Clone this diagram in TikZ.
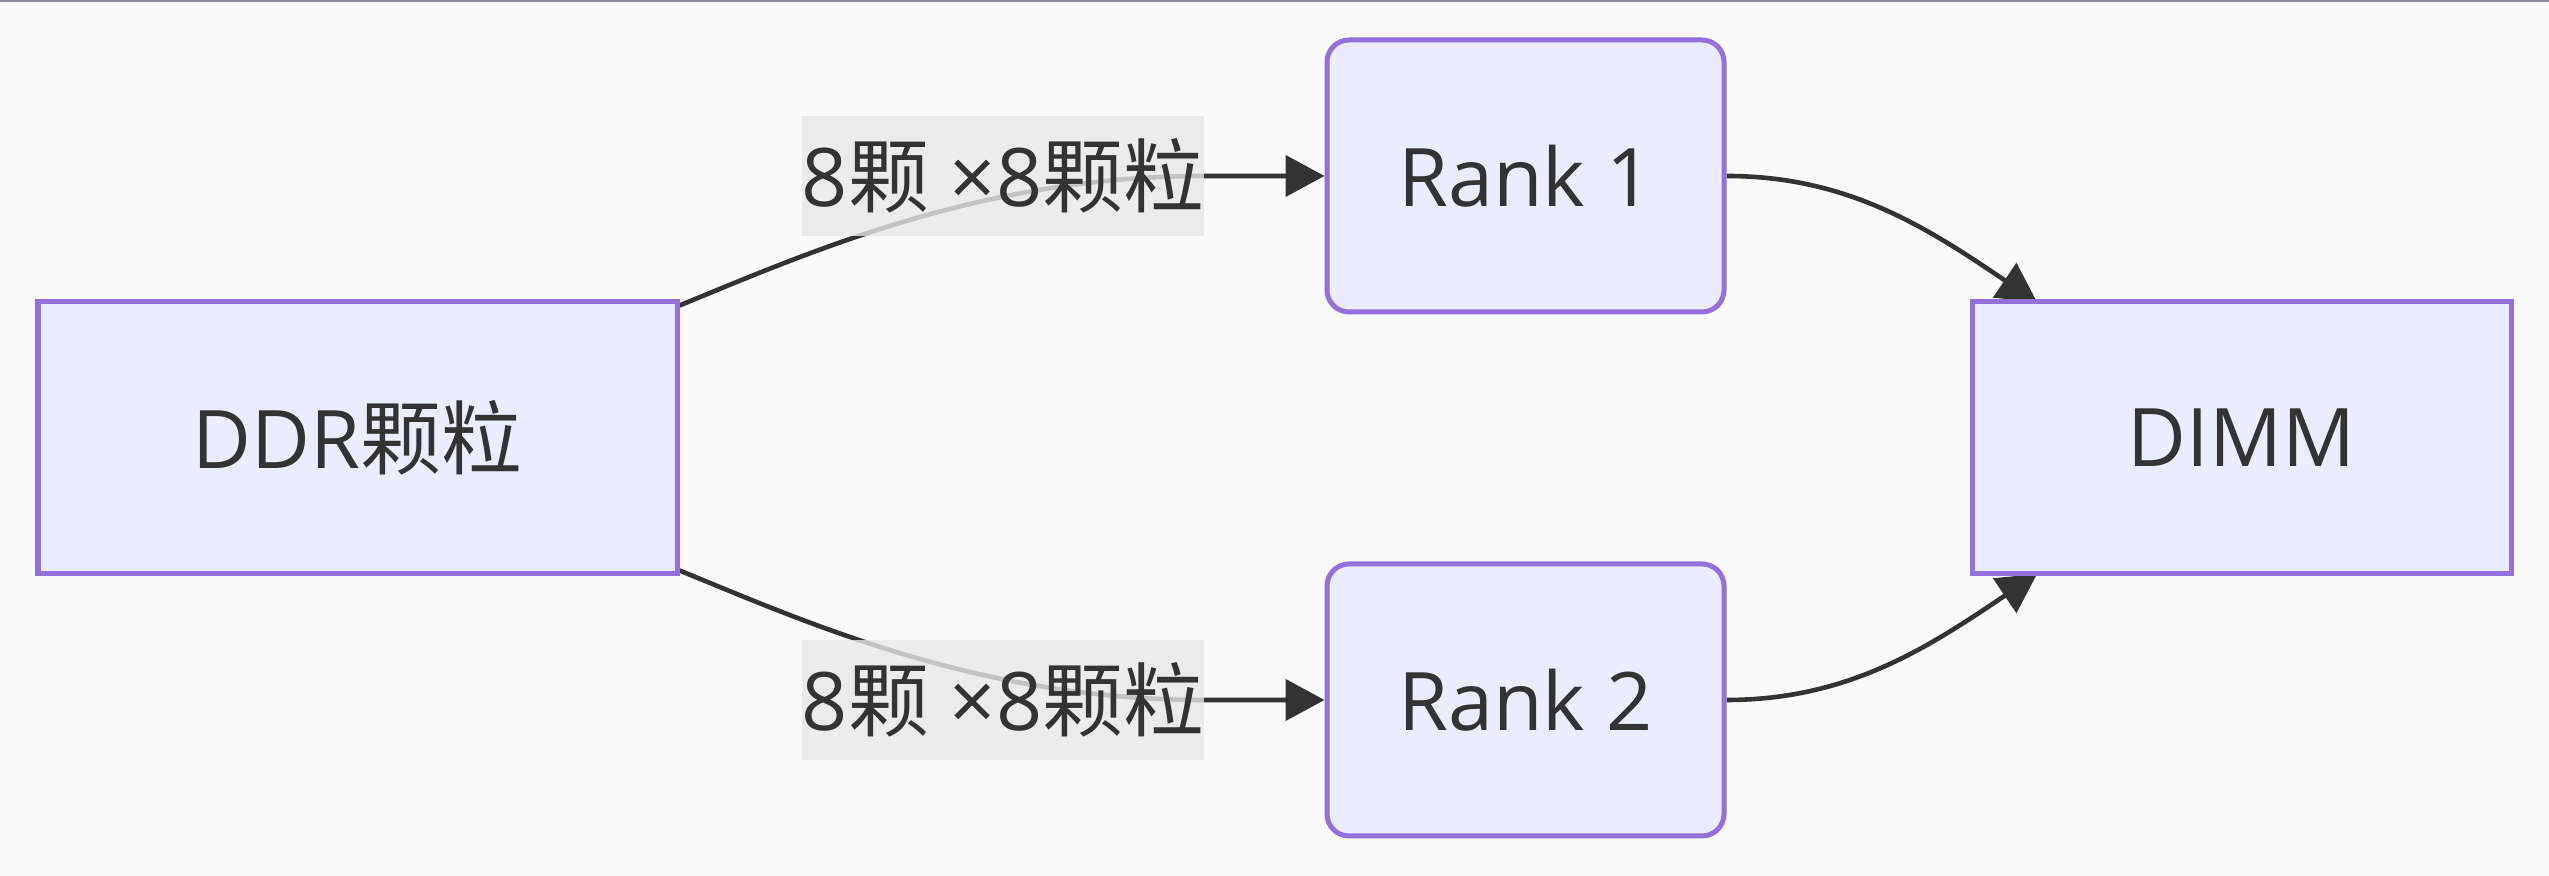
\documentclass[tikz,border=0pt]{standalone}
\usepackage{fontspec}
\setmainfont{Open Sans}
\newfontfamily\cjk{Noto Sans CJK SC}
\usetikzlibrary{arrows.meta}
\pgfdeclarelayer{bg}
\pgfsetlayers{bg,main}
\definecolor{pagebg}{HTML}{FAFAFA}
\definecolor{nodefill}{HTML}{ECECFF}
\definecolor{nodeline}{HTML}{9370DB}
\definecolor{ink}{HTML}{333333}
\definecolor{labelbg}{HTML}{E8E8E8}
\definecolor{topline}{HTML}{8E8C99}
\tikzset{
  box/.style={draw=nodeline, fill=nodefill, line width=0.05cm, inner sep=0pt,
    minimum height=2.72cm, text=ink, font=\fontsize{23pt}{28pt}\selectfont},
  rbox/.style={box, rounded corners=0.22cm},
  elabel/.style={fill=labelbg, fill opacity=0.8, text opacity=1, inner sep=0pt,
    minimum width=4.02cm, minimum height=1.20cm, text=ink,
    font=\fontsize{23pt}{28pt}\selectfont},
  edge/.style={draw=ink, line width=0.046cm,
    -{Triangle[length=0.39cm,width=0.41cm]}},
}
\begin{document}
\begin{tikzpicture}
\useasboundingbox (0,0) rectangle (25.49,8.76);
\begin{pgfonlayer}{bg}
\fill[pagebg] (0,0) rectangle (25.49,8.76);
\draw[topline, line width=0.02cm] (0,8.75) -- (25.49,8.75);
\end{pgfonlayer}

\node[box, minimum width=6.39cm] (ddr) at (3.575,4.38) {DDR{\cjk 颗粒}};
\node[rbox, minimum width=3.97cm] (r1) at (15.255,7.00) {Rank 1};
\node[rbox, minimum width=3.97cm] (r2) at (15.255,1.76) {Rank 2};
\node[box, minimum width=5.39cm] (dimm) at (22.415,4.38) {DIMM};

\node[elabel] (l1) at (10.03,7.00) {8{\cjk 颗} ×8{\cjk 颗粒}};
\node[elabel] (l2) at (10.03,1.76) {8{\cjk 颗} ×8{\cjk 颗粒}};

\begin{pgfonlayer}{bg}
\draw[edge] ([yshift=-0.06cm]ddr.north east)
  .. controls (8.08,6.23) and (9.80,7.00) .. (l1.east) -- (r1.west);
\draw[edge] ([yshift=0.06cm]ddr.south east)
  .. controls (8.08,2.53) and (9.80,1.76) .. (l2.east) -- (r2.west);
\coordinate (t1) at (20.37,5.74);
\coordinate (t2) at (20.37,3.02);
\draw[edge] (r1.east) .. controls (18.50,7.00) and (19.30,6.46) .. (t1);
\draw[edge] (r2.east) .. controls (18.50,1.76) and (19.30,2.30) .. (t2);
\end{pgfonlayer}
\end{tikzpicture}
\end{document}
